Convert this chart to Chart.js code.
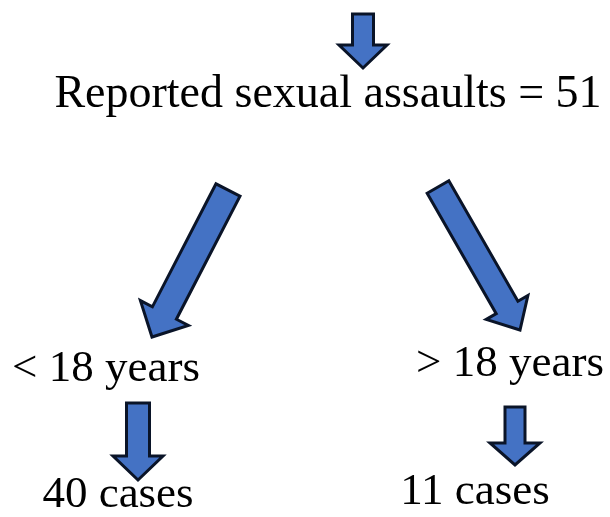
<!DOCTYPE html>
<html>
<head>
<meta charset="utf-8">
<script src="https://cdn.jsdelivr.net/npm/chart.js@4/dist/chart.umd.min.js"></script>
<style>
  html, body { margin: 0; padding: 0; background: #ffffff; }
  #wrap { width: 610px; height: 517px; position: relative; }
</style>
</head>
<body>
<div id="wrap"><canvas id="c"></canvas></div>
<script>
// ---- Data ----
const totalLabel = "Reported sexual assaults";
const totalCases = 51;
const groupLabels = ["< 18 years", "> 18 years"];
const groupCases = [40, 11];
const caseWord = "cases";

// ---- Layout (diagram coordinates, mapped through the chart's scales) ----
const textAnchors = {
  total: { x: 328, y: 107 },
  groups: [{ x: 106, y: 381 }, { x: 510, y: 376 }],
  counts: [{ x: 118, y: 507 }, { x: 475, y: 504 }]
};
// arrows: tail centre -> tip, shaft width, head width, head length (diagram units)
const arrowTails = [{ x: 363, y: 14 }, { x: 228, y: 190 }, { x: 438, y: 187 }, { x: 138, y: 403 }, { x: 515, y: 407 }];
const arrowTips  = [{ x: 363, y: 68 }, { x: 152, y: 337 }, { x: 520, y: 330 }, { x: 138, y: 480 }, { x: 515, y: 465 }];
const shaftWidths = [21, 27, 25, 23, 20];
const headWidths  = [48, 54, 48, 50, 50];
const headLengths = [23, 27, 26, 24, 22];

const FILL = '#4472C4';
const EDGE = '#0a1428';
const FONT_MAIN = '46px "Liberation Serif", "Times New Roman", serif';
const FONT = '45px "Liberation Serif", "Times New Roman", serif';

const diagramPlugin = {
  id: 'diagram',
  afterDatasetsDraw(chart) {
    const ctx = chart.ctx;
    const xs = chart.scales.x, ys = chart.scales.y;
    const px = p => ({ x: xs.getPixelForValue(p.x), y: ys.getPixelForValue(p.y) });
    const unit = Math.abs(xs.getPixelForValue(1) - xs.getPixelForValue(0));

    ctx.save();
    // arrows
    arrowTails.forEach((t, i) => {
      const a = px(t), b = px(arrowTips[i]);
      const dx = b.x - a.x, dy = b.y - a.y;
      const L = Math.hypot(dx, dy);
      const ux = dx / L, uy = dy / L;
      const nx = -uy, ny = ux;
      const w = shaftWidths[i] * unit / 2, hw = headWidths[i] * unit / 2, hl = headLengths[i] * unit;
      const bx = b.x - ux * hl, by = b.y - uy * hl;
      ctx.beginPath();
      ctx.moveTo(a.x + nx * w, a.y + ny * w);
      ctx.lineTo(bx + nx * w, by + ny * w);
      ctx.lineTo(bx + nx * hw, by + ny * hw);
      ctx.lineTo(b.x, b.y);
      ctx.lineTo(bx - nx * hw, by - ny * hw);
      ctx.lineTo(bx - nx * w, by - ny * w);
      ctx.lineTo(a.x - nx * w, a.y - ny * w);
      ctx.closePath();
      ctx.fillStyle = FILL;
      ctx.fill();
      ctx.lineWidth = 3;
      ctx.lineJoin = 'miter';
      ctx.strokeStyle = EDGE;
      ctx.stroke();
    });

    // texts
    ctx.fillStyle = '#000000';
    ctx.textAlign = 'center';
    ctx.textBaseline = 'alphabetic';
    ctx.font = FONT_MAIN;
    let p = px(textAnchors.total);
    ctx.fillText(totalLabel + " = " + totalCases, p.x, p.y);
    ctx.font = FONT;
    groupLabels.forEach((g, i) => {
      const q = px(textAnchors.groups[i]);
      ctx.fillText(g, q.x, q.y);
      const r = px(textAnchors.counts[i]);
      ctx.fillText(groupCases[i] + " " + caseWord, r.x, r.y);
    });
    ctx.restore();
  }
};

new Chart(document.getElementById('c'), {
  type: 'scatter',
  data: {
    datasets: [{
      label: 'arrow tips',
      data: arrowTips,
      pointRadius: 0,
      showLine: false
    }]
  },
  options: {
    responsive: true,
    maintainAspectRatio: false,
    animation: false,
    layout: { padding: 0 },
    plugins: { legend: { display: false }, tooltip: { enabled: false } },
    scales: {
      x: { type: 'linear', min: 0, max: 610, display: false },
      y: { type: 'linear', min: 0, max: 517, reverse: true, display: false }
    }
  },
  plugins: [diagramPlugin]
});
</script>
</body>
</html>
